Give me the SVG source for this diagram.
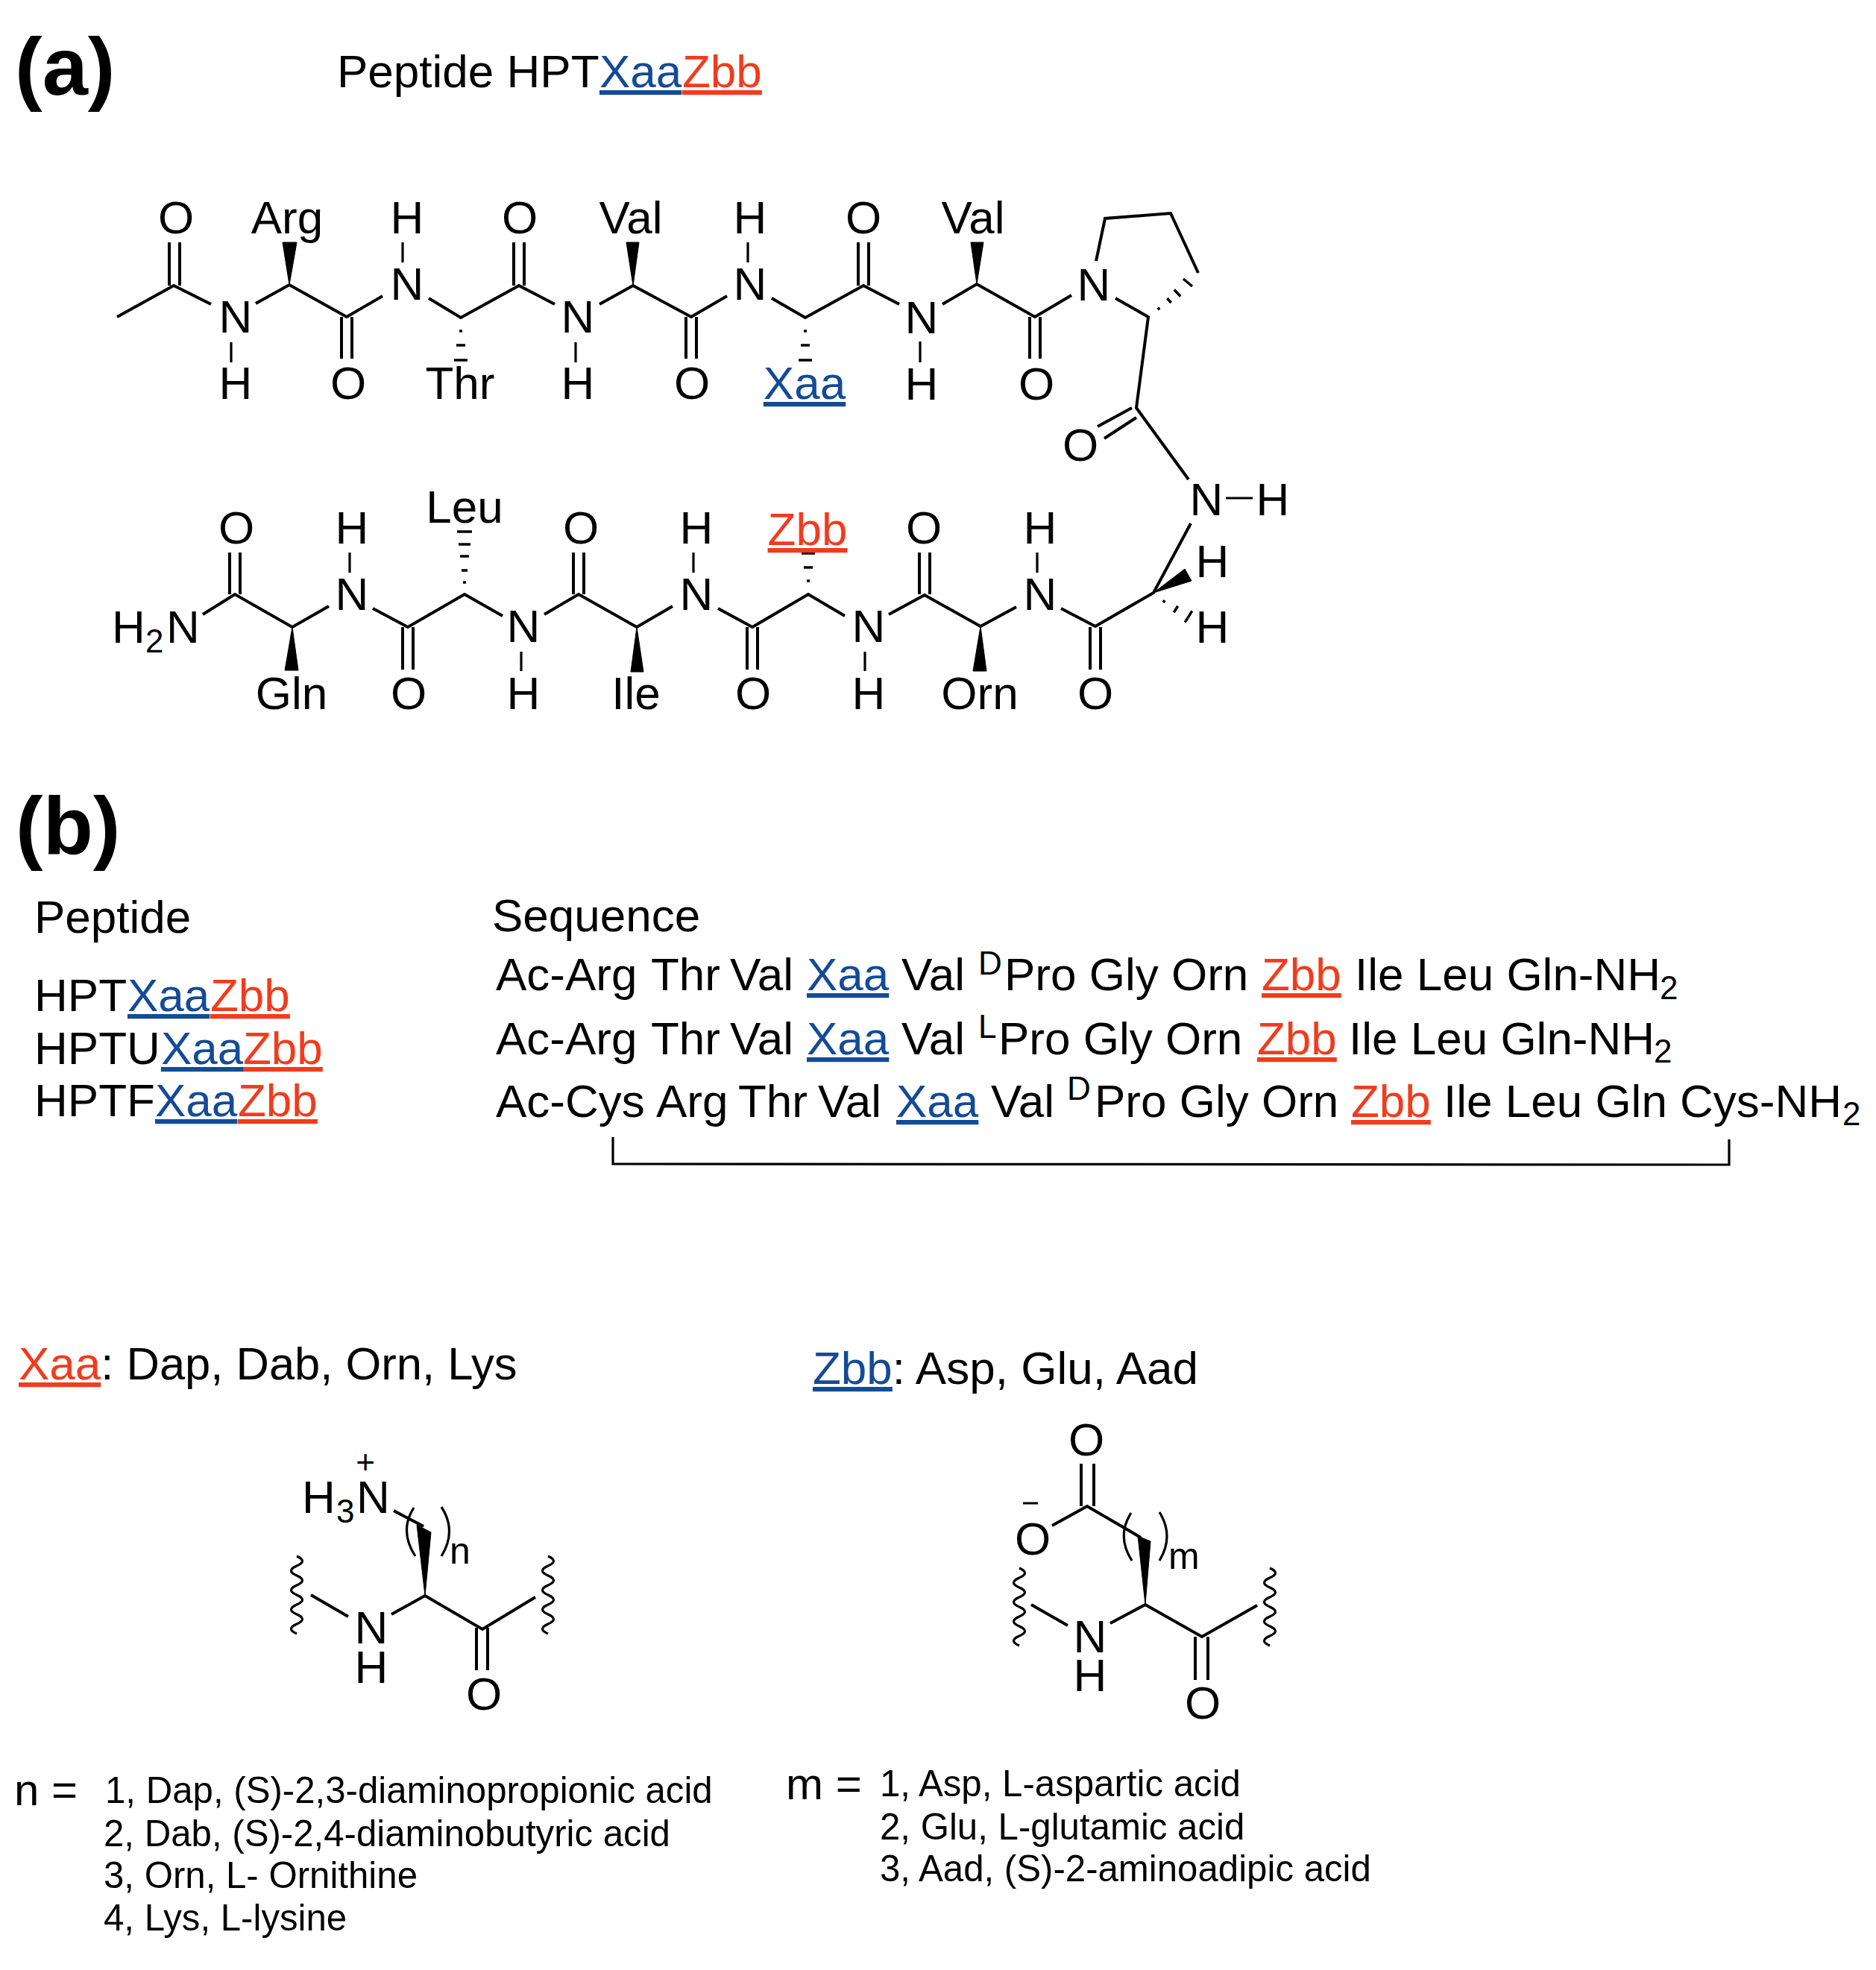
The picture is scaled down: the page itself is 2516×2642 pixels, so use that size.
<svg xmlns="http://www.w3.org/2000/svg" width="2516" height="2642" viewBox="0 0 2516 2642">
<style>
text{font-family:"Liberation Sans",Arial,sans-serif;font-size:62px;fill:#000}
.c{text-anchor:middle}
.bold{font-weight:bold;font-size:110px}
.sup{font-size:44px}
.sub{font-size:44px}
.small{font-size:49.200px}
.idx{font-size:50px}
.big{font-size:60px}
.x{fill:#144b96;text-decoration:underline}
.z{fill:#f03c1e;text-decoration:underline}
.l{fill:none;stroke:#000;stroke-width:4}
.thin{fill:none;stroke:#000;stroke-width:3.200}
.w{fill:#000;stroke:#000;stroke-width:1;stroke-linejoin:round}
.h{stroke:#000;stroke-width:3.500;fill:none}
</style>
<defs>
<path id="wave" class="thin" d="M0 0q15 6.500 0 13q-15 6.500 0 13q15 6.500 0 13q-15 6.500 0 13q15 6.500 0 13q-15 6.500 0 13q15 6.500 0 13q-15 6.500 0 13"/>
</defs>
<rect width="2516" height="2642" fill="#fff"/>

<g id="panel-a-heading">
<text class="bold" x="20" y="127">(a)</text>
<text x="452" y="117">Peptide HPT<tspan class="x" x="804">Xaa</tspan><tspan class="z" x="915">Zbb</tspan></text>
</g>

<g id="peptide-bonds">
<path class="l" d="M157 425L233 383L283 408M343 407L388 382L465 425L513 397M575 400L618 426L696 383L744 408M804 408L849 383L927 425L975 397M1035 400L1080 426L1158 383L1206 408M1264 408L1310 381L1388 425L1437 396M1496 400L1540 425L1524 547L1594 643M1470 350L1482 293L1570 286L1607 366"/>
<path class="l" d="M227 325V383M241 325V383M689 325V383M703 325V383M1151 325V383M1165 325V383M458 425V481M472 425V481M920 425V481M934 425V481M1381 425V481M1395 425V481M1472 572L1518 547M1481 588L1524 560"/>
<path class="thin" d="M310 459V486M772 459V486M1234 458V486M540 325V352M1003 325V352M1644 668H1680"/>
<path class="l" d="M272 824L315 797L392 841L441 813M500 816L547 841L623 797L674 826M730 824L776 797L854 841L902 813M963 816L1009 841L1084 797L1133 826M1192 824L1240 798L1315 840L1363 814M1423 816L1469 840L1547 795L1597 702"/>
<path class="l" d="M308 741V797M322 741V797M769 741V797M783 741V797M1233 741V797M1247 741V797M540 841V898M554 841V898M1002 841V898M1016 841V898M1462 841V898M1476 841V898"/>
<path class="thin" d="M469 741V768M930 741V768M1391 741V768M699 874V900M1160 874V900"/>
<path class="w" d="M388 382L379 325H398ZM849 383L840 325H857ZM1310 381L1302 325H1319ZM392 841L382 899H400ZM854 841L846 901H863ZM1315 840L1305 900H1323ZM1547 795L1589 763L1598 779Z"/>
<path class="h" d="M616 444H620M612 463H624M609 483H627M1078 444H1082M1074 463H1086M1071 483H1089M621 781H625M619 765H627M617 746H629M615 730H631M613 713H633M1082 779H1086M1078 761H1090M1075 742H1093M1553 412.500L1555 415.500M1565.400 400L1570.600 406M1574.800 388.500L1583.200 397.500M1587 374L1599 384M1560 808L1562 805M1574.300 821.200L1579.700 812.800M1589.200 834.600L1598.800 819.400"/>
</g>

<g id="peptide-atoms">
<text class="c" x="236" y="313">O</text><text class="c" x="385" y="313">Arg</text><text class="c" x="546" y="313">H</text><text class="c" x="697" y="313">O</text><text class="c" x="846" y="313">Val</text><text class="c" x="1006" y="313">H</text><text class="c" x="1158" y="313">O</text><text class="c" x="1305" y="313">Val</text>
<text class="c" x="546" y="402">N</text><text class="c" x="1006" y="402">N</text><text class="c" x="1467" y="403">N</text>
<text class="c" x="316" y="446">N</text><text class="c" x="775" y="446">N</text><text class="c" x="1236" y="447">N</text>
<text class="c" x="316" y="535">H</text><text class="c" x="467" y="535">O</text><text class="c" x="617" y="535">Thr</text><text class="c" x="775" y="535">H</text><text class="c" x="928" y="535">O</text><text class="c x" x="1079" y="535">Xaa</text><text class="c" x="1236" y="536">H</text><text class="c" x="1390" y="536">O</text>
<text class="c" x="1449" y="618">O</text><text class="c" x="1618" y="691">N</text><text class="c" x="1707" y="691">H</text><text class="c" x="1626" y="774">H</text><text class="c" x="1626" y="862">H</text>
<text class="c" x="623" y="701">Leu</text>
<text class="c" x="317" y="729">O</text><text class="c" x="472" y="729">H</text><text class="c" x="779" y="729">O</text><text class="c" x="934" y="729">H</text><text class="c z" x="1083" y="731">Zbb</text><text class="c" x="1239" y="729">O</text><text class="c" x="1395" y="729">H</text>
<text class="c" x="472" y="818">N</text><text class="c" x="934" y="818">N</text><text class="c" x="1395" y="818">N</text>
<text x="150" y="862">H<tspan class="sub" x="195" y="875">2</tspan><tspan x="223" y="862">N</tspan></text>
<text class="c" x="702" y="861">N</text><text class="c" x="1165" y="861">N</text>
<text class="c" x="391" y="951">Gln</text><text class="c" x="548" y="951">O</text><text class="c" x="702" y="951">H</text><text class="c" x="853" y="951">Ile</text><text class="c" x="1010" y="951">O</text><text class="c" x="1165" y="951">H</text><text class="c" x="1314" y="951">Orn</text><text class="c" x="1469" y="951">O</text>
</g>

<g id="panel-b-table">
<text class="bold" x="21" y="1145">(b)</text>
<text x="46" y="1251">Peptide</text>
<text x="660" y="1249">Sequence</text>
<text x="46" y="1356">HPT<tspan class="x" x="171">Xaa</tspan><tspan class="z" x="282">Zbb</tspan></text>
<text x="46" y="1427">HPTU<tspan class="x" x="216">Xaa</tspan><tspan class="z" x="326">Zbb</tspan></text>
<text x="46" y="1497">HPTF<tspan class="x" x="208">Xaa</tspan><tspan class="z" x="319">Zbb</tspan></text>
<text x="665" y="1328">Ac-Arg <tspan x="873">Thr </tspan><tspan x="979">Val </tspan><tspan class="x" x="1082">Xaa</tspan><tspan> </tspan><tspan x="1209">Val </tspan><tspan class="sup" x="1312" y="1307">D</tspan><tspan x="1347" y="1328">Pro Gly Orn </tspan><tspan class="z" x="1692">Zbb</tspan><tspan> </tspan><tspan x="1817">Ile Leu Gln-NH</tspan><tspan class="sub" x="2226" y="1340">2</tspan></text>
<text x="665" y="1414">Ac-Arg <tspan x="873">Thr </tspan><tspan x="979">Val </tspan><tspan class="x" x="1082">Xaa</tspan><tspan> </tspan><tspan x="1209">Val </tspan><tspan class="sup" x="1312" y="1392">L</tspan><tspan x="1339" y="1414">Pro Gly Orn </tspan><tspan class="z" x="1686">Zbb</tspan><tspan> </tspan><tspan x="1809">Ile Leu Gln-NH</tspan><tspan class="sub" x="2218" y="1425">2</tspan></text>
<text x="665" y="1498">Ac-Cys <tspan x="880">Arg </tspan><tspan x="990">Thr </tspan><tspan x="1097">Val </tspan><tspan class="x" x="1202">Xaa</tspan><tspan> </tspan><tspan x="1329">Val </tspan><tspan class="sup" x="1431" y="1475">D</tspan><tspan x="1468" y="1498">Pro Gly Orn </tspan><tspan class="z" x="1812">Zbb</tspan><tspan> </tspan><tspan x="1936">Ile Leu Gln Cys-NH</tspan><tspan class="sub" x="2471" y="1509">2</tspan></text>
<path id="disulfide-bracket" class="thin" d="M822 1525V1561L2319 1562V1528"/>
</g>

<g id="xaa-residue">
<text x="25" y="1850"><tspan class="z">Xaa</tspan><tspan style="font-size:61.500px">: Dap, Dab, Orn, Lys</tspan></text>
<text class="c sup" x="490" y="1976">+</text>
<text x="405" y="2029">H<tspan class="sub" x="451" y="2042">3</tspan><tspan x="478" y="2029">N</tspan></text>
<path class="l" d="M528 2026L568 2047M417 2139L467 2168M525 2165L570 2140L647 2185L718 2142"/>
<path class="w" d="M570 2140L559 2045L578 2055Z"/>
<path class="thin" d="M555 2022Q535 2053 557 2087M592 2021Q613 2053 592 2087"/>
<text class="idx" x="603" y="2097">n</text>
<use href="#wave" x="398" y="2087"/>
<use href="#wave" x="735" y="2087"/>
<path class="l" d="M639 2183V2240M654 2183V2240"/>
<text class="c" x="498" y="2204">N</text><text class="c" x="498" y="2257">H</text><text class="c" x="649" y="2293">O</text>
</g>

<g id="zbb-residue">
<text x="1090" y="1856"><tspan class="x">Zbb</tspan><tspan>: Asp, Glu, Aad</tspan></text>
<text class="c" x="1457" y="1952">O</text>
<path class="l" d="M1450 1963V2020M1467 1963V2020M1411 2046L1458 2020L1530 2062M1383 2152L1432 2180M1489 2177L1536 2152L1612 2195L1686 2153M1603 2195V2253M1620 2195V2253"/>
<path class="w" d="M1536 2152L1526 2060L1543 2067Z"/>
<path class="thin" d="M1517 2029Q1497 2060 1518 2093M1555 2028Q1575 2060 1555 2093M1372 2016H1392"/>
<text class="c" x="1385" y="2085">O</text>
<text class="idx" x="1567" y="2104">m</text>
<use href="#wave" x="1367" y="2103"/>
<use href="#wave" x="1703" y="2103"/>
<text class="c" x="1462" y="2216">N</text><text class="c" x="1462" y="2268">H</text><text class="c" x="1613" y="2305">O</text>
</g>

<g id="xaa-legend">
<text class="big" x="19" y="2421">n =</text>
<text class="small" x="141" y="2418">1, Dap, (S)-2,3-diaminopropionic acid</text>
<text class="small" x="139" y="2476">2, Dab, (S)-2,4-diaminobutyric acid</text>
<text class="small" x="139" y="2532">3, Orn, L- Ornithine</text>
<text class="small" x="139" y="2589">4, Lys, L-lysine</text>
</g>
<g id="zbb-legend">
<text class="big" x="1054" y="2413">m =</text>
<text class="small" x="1180" y="2409">1, Asp, L-aspartic acid</text>
<text class="small" x="1180" y="2467">2, Glu, L-glutamic acid</text>
<text class="small" x="1180" y="2523">3, Aad, (S)-2-aminoadipic acid</text>
</g>
</svg>
